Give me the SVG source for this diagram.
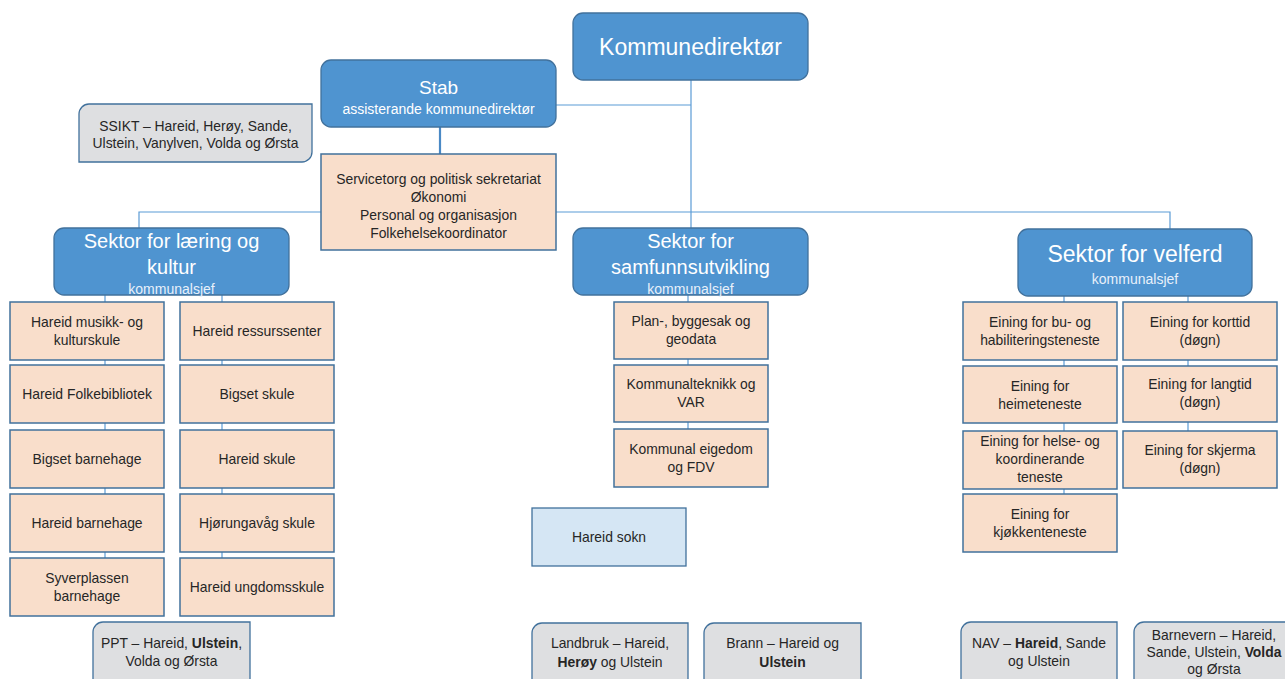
<svg xmlns="http://www.w3.org/2000/svg" width="1285" height="679" viewBox="0 0 1285 679">
<style>
text{font-family:"Liberation Sans",Arial,sans-serif;text-anchor:middle;}
.blue{fill:#4F94D0;stroke:#41719C;stroke-width:1.3;}
.peach{fill:#F9DECB;stroke:#41719C;stroke-width:1.5;}
.grey{fill:#DEDFE1;stroke:#41719C;stroke-width:1.3;}
.sokn{fill:#D5E6F4;stroke:#41719C;stroke-width:1.3;}
.t{font-size:13.9px;fill:#262626;}
.big{font-size:20px;fill:#FFFFFF;}
.sub{font-size:14px;fill:#E8F0FA;}
.con{stroke:#5B9BD5;stroke-width:1.2;fill:none;}
.b{font-weight:bold;}
</style>
<g id="connectors">
<path class="con" d="M691,80 V228"/>
<path class="con" d="M556,105 H691"/>
<path d="M440,127 V154" stroke="#4A89C5" stroke-width="2.2" fill="none"/>
<path class="con" d="M139,228 V212 H321"/>
<path class="con" d="M556,212 H1170 V229"/>
<path class="con" d="M105,295 V558"/>
<path class="con" d="M222,295 V558"/>
<path class="con" d="M688,295 V429"/>
<path class="con" d="M1064,296 V494"/>
<path class="con" d="M1188,296 V431"/>
</g>
<g id="kommunedirektor">
<rect class="blue" x="573" y="13" width="235" height="67" rx="10"/>
<text x="690.5" y="55" style="font-size:23px;fill:#fff">Kommunedirektør</text>
</g>
<g id="stab">
<rect class="blue" x="321" y="60" width="235" height="67" rx="10"/>
<text x="438.5" y="94" style="font-size:19px;fill:#fff">Stab</text>
<text x="438.5" y="114" style="font-size:14px;fill:#fff">assisterande kommunedirektør</text>
</g>
<g id="ssikt">
<path class="grey" d="M89,104 H312 V152 A10,10 0 0 1 302,162 H79 V114 A10,10 0 0 1 89,104 Z"/>
<text class="t" x="195.5" y="131">SSIKT – Hareid, Herøy, Sande,</text>
<text class="t" x="195.5" y="148">Ulstein, Vanylven, Volda og Ørsta</text>
</g>
<g id="servicetorg">
<rect class="peach" x="321" y="154" width="235" height="96"/>
<text class="t" x="438.5" y="184">Servicetorg og politisk sekretariat</text>
<text class="t" x="438.5" y="202">Økonomi</text>
<text class="t" x="438.5" y="220">Personal og organisasjon</text>
<text class="t" x="438.5" y="238">Folkehelsekoordinator</text>
</g>
<g id="sektor-laering">
<rect class="blue" x="54" y="228" width="235" height="67" rx="10"/>
<text class="big" x="171.5" y="248">Sektor for læring og</text>
<text class="big" x="171.5" y="274">kultur</text>
<text class="sub" x="171.5" y="294">kommunalsjef</text>
</g>
<g id="sektor-samfunn">
<rect class="blue" x="573" y="228" width="235" height="67" rx="10"/>
<text class="big" x="690.5" y="248">Sektor for</text>
<text class="big" x="690.5" y="274">samfunnsutvikling</text>
<text class="sub" x="690.5" y="294">kommunalsjef</text>
</g>
<g id="sektor-velferd">
<rect class="blue" x="1018" y="229" width="234" height="67" rx="10"/>
<text x="1135" y="262" style="font-size:23px;fill:#fff">Sektor for velferd</text>
<text class="sub" x="1135" y="284">kommunalsjef</text>
</g>
<g id="musikk"><rect class="peach" x="10" y="302" width="154" height="58"/><text class="t" x="87" y="327">Hareid musikk- og</text><text class="t" x="87" y="345">kulturskule</text></g>
<g id="folkebibliotek"><rect class="peach" x="10" y="365" width="154" height="58"/><text class="t" x="87" y="399">Hareid Folkebibliotek</text></g>
<g id="bigset-barnehage"><rect class="peach" x="10" y="430" width="154" height="58"/><text class="t" x="87" y="464">Bigset barnehage</text></g>
<g id="hareid-barnehage"><rect class="peach" x="10" y="494" width="154" height="58"/><text class="t" x="87" y="528">Hareid barnehage</text></g>
<g id="syverplassen"><rect class="peach" x="10" y="558" width="154" height="58"/><text class="t" x="87" y="583">Syverplassen</text><text class="t" x="87" y="601">barnehage</text></g>
<g id="ressurssenter"><rect class="peach" x="180" y="302" width="154" height="58"/><text class="t" x="257" y="336">Hareid ressurssenter</text></g>
<g id="bigset-skule"><rect class="peach" x="180" y="365" width="154" height="58"/><text class="t" x="257" y="399">Bigset skule</text></g>
<g id="hareid-skule"><rect class="peach" x="180" y="430" width="154" height="58"/><text class="t" x="257" y="464">Hareid skule</text></g>
<g id="hjorungavag"><rect class="peach" x="180" y="494" width="154" height="58"/><text class="t" x="257" y="528">Hjørungavåg skule</text></g>
<g id="ungdomsskule"><rect class="peach" x="180" y="558" width="154" height="58"/><text class="t" x="257" y="592">Hareid ungdomsskule</text></g>
<g id="ppt">
<path class="grey" d="M103,622 H250 V682 A10,10 0 0 1 240,692 H93 V632 A10,10 0 0 1 103,622 Z"/>
<text class="t" x="171.5" y="648">PPT – Hareid, <tspan class="b">Ulstein</tspan>,</text>
<text class="t" x="171.5" y="666">Volda og Ørsta</text>
</g>
<g id="plan"><rect class="peach" x="614" y="302" width="154" height="57"/><text class="t" x="691" y="326">Plan-, byggesak og</text><text class="t" x="691" y="344">geodata</text></g>
<g id="kommunalteknikk"><rect class="peach" x="614" y="365" width="154" height="57"/><text class="t" x="691" y="389">Kommunalteknikk og</text><text class="t" x="691" y="407">VAR</text></g>
<g id="eigedom"><rect class="peach" x="614" y="429" width="154" height="58"/><text class="t" x="691" y="454">Kommunal eigedom</text><text class="t" x="691" y="472">og FDV</text></g>
<g id="hareid-sokn"><rect class="sokn" x="532" y="508" width="154" height="58"/><text class="t" x="609" y="542">Hareid sokn</text></g>
<g id="landbruk">
<path class="grey" d="M542,623 H688 V683 A10,10 0 0 1 678,693 H532 V633 A10,10 0 0 1 542,623 Z"/>
<text class="t" x="610" y="648">Landbruk – Hareid,</text>
<text class="t" x="610" y="667"><tspan class="b">Herøy</tspan> og Ulstein</text>
</g>
<g id="brann">
<path class="grey" d="M714,623 H861 V683 A10,10 0 0 1 851,693 H704 V633 A10,10 0 0 1 714,623 Z"/>
<text class="t" x="782.5" y="648">Brann – Hareid og</text>
<text class="t b" x="782.5" y="667">Ulstein</text>
</g>
<g id="bu-habilitering"><rect class="peach" x="963" y="302" width="154" height="58"/><text class="t" x="1040" y="327">Eining for bu- og</text><text class="t" x="1040" y="345">habiliteringsteneste</text></g>
<g id="heimeteneste"><rect class="peach" x="963" y="366" width="154" height="57"/><text class="t" x="1040" y="391">Eining for</text><text class="t" x="1040" y="409">heimeteneste</text></g>
<g id="helse"><rect class="peach" x="963" y="431" width="154" height="58"/><text class="t" x="1040" y="446">Eining for helse- og</text><text class="t" x="1040" y="464">koordinerande</text><text class="t" x="1040" y="482">teneste</text></g>
<g id="kjokken"><rect class="peach" x="963" y="494" width="154" height="58"/><text class="t" x="1040" y="519">Eining for</text><text class="t" x="1040" y="537">kjøkkenteneste</text></g>
<g id="korttid"><rect class="peach" x="1123" y="302" width="154" height="58"/><text class="t" x="1200" y="327">Eining for korttid</text><text class="t" x="1200" y="345">(døgn)</text></g>
<g id="langtid"><rect class="peach" x="1123" y="366" width="154" height="56"/><text class="t" x="1200" y="389">Eining for langtid</text><text class="t" x="1200" y="407">(døgn)</text></g>
<g id="skjerma"><rect class="peach" x="1123" y="431" width="154" height="57"/><text class="t" x="1200" y="455">Eining for skjerma</text><text class="t" x="1200" y="473">(døgn)</text></g>
<g id="nav">
<path class="grey" d="M971,622 H1117 V682 A10,10 0 0 1 1107,692 H961 V632 A10,10 0 0 1 971,622 Z"/>
<text class="t" x="1039" y="648">NAV – <tspan class="b">Hareid</tspan>, Sande</text>
<text class="t" x="1039" y="666">og Ulstein</text>
</g>
<g id="barnevern">
<path class="grey" d="M1144,622 H1294 V682 A10,10 0 0 1 1284,692 H1134 V632 A10,10 0 0 1 1144,622 Z"/>
<text class="t" x="1214" y="640">Barnevern – Hareid,</text>
<text class="t" x="1214" y="657">Sande, Ulstein, <tspan class="b">Volda</tspan></text>
<text class="t" x="1214" y="674">og Ørsta</text>
</g>
</svg>
